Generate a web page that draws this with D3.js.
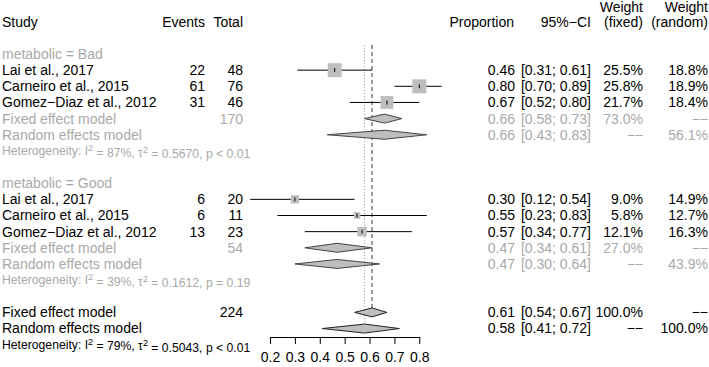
<!DOCTYPE html>
<html>
<head>
<meta charset="utf-8">
<script src="https://cdn.jsdelivr.net/npm/d3@7"></script>
<style>
  body { margin: 0; background: #fff; }
  svg { font-family: "Liberation Sans", Arial, sans-serif; }
</style>
</head>
<body>
<div id="chart"></div>
<script>
// study data, same three studies in each subgroup
const studies = ['Lai et al., 2017', 'Carneiro et al., 2015', 'Gomez\u2212Diaz et al., 2012']
const groups = ['Bad', 'Good']

const events = { Bad: [22, 61, 31], Good: [6, 6, 13] }
const totals = { Bad: [48, 76, 46], Good: [20, 11, 23] }
const props = { Bad: [0.46, 0.80, 0.67], Good: [0.30, 0.55, 0.57] }
const lower = { Bad: [0.31, 0.70, 0.52], Good: [0.12, 0.23, 0.34] }
const upper = { Bad: [0.61, 0.89, 0.80], Good: [0.54, 0.83, 0.77] }
const wFixed = { Bad: [25.5, 25.8, 21.7], Good: [9.0, 5.8, 12.1] }
const wRandom = { Bad: [18.8, 18.9, 18.4], Good: [14.9, 12.7, 16.3] }

// subgroup and overall summaries: [estimate, lower, upper]
const subFixed = { Bad: [0.66, 0.58, 0.73], Good: [0.47, 0.34, 0.61] }
const subRandom = { Bad: [0.66, 0.43, 0.83], Good: [0.47, 0.30, 0.64] }
const subTotal = { Bad: 170, Good: 54 }
const subWFixed = { Bad: '73.0%', Good: '27.0%' }
const subWRandom = { Bad: '56.1%', Good: '43.9%' }
const subHet = { Bad: ['87%', '0.5670', 'p < 0.01'], Good: ['39%', '0.1612', 'p = 0.19'] }

const allFixed = [0.61, 0.54, 0.67]
const allRandom = [0.58, 0.41, 0.72]
const allTotal = 224
const allHet = ['79%', '0.5043', 'p < 0.01']

const ticks = [0.2, 0.3, 0.4, 0.5, 0.6, 0.7, 0.8]

const width = 709
const height = 367
const grey = '#a9a9a9'
const fs = 14
const dash = '\u2212\u2212'

const x = d3.scaleLinear().domain([0.2, 0.8]).range([270, 419.3])
const rowY = (k) => 54 + 16.15 * k
const box = d3.scaleSqrt().domain([0, d3.max(groups.flatMap(g => wFixed[g]))]).range([0, 14])

const f2 = d3.format('.2f')
const ci = (lo, hi) => `[${f2(lo)}; ${f2(hi)}]`
const pct = (w) => w.toFixed(1) + '%'

// build the row list
const rows = []
let k = 0
groups.forEach(g => {
  rows.push({ k: k++, type: 'label', text: `metabolic = ${g}` })
  studies.forEach((s, i) => {
    rows.push({ k: k++, type: 'study', text: s, ev: events[g][i], n: totals[g][i],
      est: props[g][i], lo: lower[g][i], hi: upper[g][i], wf: pct(wFixed[g][i]), wr: pct(wRandom[g][i]), w: wFixed[g][i] })
  })
  rows.push({ k: k++, type: 'diamond', grey: true, text: 'Fixed effect model', n: subTotal[g],
    est: subFixed[g][0], lo: subFixed[g][1], hi: subFixed[g][2], wf: subWFixed[g], wr: dash })
  rows.push({ k: k++, type: 'diamond', grey: true, text: 'Random effects model',
    est: subRandom[g][0], lo: subRandom[g][1], hi: subRandom[g][2], wf: dash, wr: subWRandom[g] })
  rows.push({ k: k++, type: 'het', grey: true, het: subHet[g] })
  k++
})
rows.push({ k: k++, type: 'diamond', text: 'Fixed effect model', n: allTotal,
  est: allFixed[0], lo: allFixed[1], hi: allFixed[2], wf: '100.0%', wr: dash })
rows.push({ k: k++, type: 'diamond', text: 'Random effects model',
  est: allRandom[0], lo: allRandom[1], hi: allRandom[2], wf: dash, wr: '100.0%' })
rows.push({ k: k++, type: 'het', het: allHet })

const svg = d3.select('#chart').append('svg')
  .attr('width', width)
  .attr('height', height)
  .style('font-size', fs + 'px')

// header
const hdr = svg.append('g')
const header = (txt, xx, yy, anchor) => hdr.append('text')
  .attr('x', xx).attr('y', yy).attr('dy', '0.35em')
  .attr('text-anchor', anchor).text(txt)
header('Study', 2, rowY(-2), 'start')
header('Events', 205, rowY(-2), 'end')
header('Total', 243, rowY(-2), 'end')
header('Proportion', 514, rowY(-2), 'end')
header('95%\u2212CI', 591, rowY(-2), 'end')
header('Weight', 643, 7, 'end')
header('(fixed)', 643, rowY(-2), 'end')
header('Weight', 708, 7, 'end')
header('(random)', 708, rowY(-2), 'end')

// reference lines
const overall = rows.filter(r => r.type === 'diamond' && !r.grey)
svg.append('line')
  .attr('x1', x(allFixed[0])).attr('x2', x(allFixed[0]))
  .attr('y1', 45).attr('y2', rowY(overall[0].k) - 4.5)
  .attr('stroke', '#666').attr('stroke-width', 1.3).attr('stroke-dasharray', '4,3')
svg.append('line')
  .attr('x1', x(allRandom[0])).attr('x2', x(allRandom[0]))
  .attr('y1', 45).attr('y2', rowY(overall[1].k) - 4.5)
  .attr('stroke', '#999').attr('stroke-width', 1).attr('stroke-dasharray', '1,2')

const body = svg.append('g')
rows.forEach(r => {
  const y = rowY(r.k)
  const col = (r.grey || r.type === 'label') ? grey : '#000'
  const txt = (t, xx, anchor) => body.append('text')
    .attr('x', xx).attr('y', y).attr('dy', '0.35em')
    .attr('text-anchor', anchor).attr('fill', col).text(t)

  if (r.type === 'het') {
    const t = body.append('text').attr('x', 2).attr('y', y).attr('dy', '0.35em')
      .attr('fill', col).style('font-size', '12.2px')
    t.append('tspan').text('Heterogeneity: I')
    t.append('tspan').attr('dy', '-0.45em').style('font-size', '9px').text('2')
    t.append('tspan').attr('dy', '0.45em').text(` = ${r.het[0]}, \u03c4`)
    t.append('tspan').attr('dy', '-0.45em').style('font-size', '9px').text('2')
    t.append('tspan').attr('dy', '0.45em').text(` = ${r.het[1]}, ${r.het[2]}`)
    return
  }
  txt(r.text, 2, 'start')
  if (r.type === 'label') return
  if (r.ev != null) txt(r.ev, 205, 'end')
  if (r.n != null) txt(r.n, 243, 'end')
  txt(f2(r.est), 515, 'end')
  txt(ci(r.lo, r.hi), 591, 'end')
  txt(r.wf, 643, 'end')
  txt(r.wr, 708, 'end')

  if (r.type === 'study') {
    body.append('line')
      .attr('x1', x(r.lo)).attr('x2', x(r.hi)).attr('y1', y).attr('y2', y)
      .attr('stroke', '#000').attr('stroke-width', 1)
    const s = box(r.w)
    body.append('rect')
      .attr('x', x(r.est) - s / 2).attr('y', y - s / 2)
      .attr('width', s).attr('height', s)
      .attr('fill', '#bebebe')
    body.append('line')
      .attr('x1', x(r.est)).attr('x2', x(r.est)).attr('y1', y - 2).attr('y2', y + 2)
      .attr('stroke', '#000').attr('stroke-width', 1)
  } else {
    const h = 4.5
    const pts = [[x(r.lo), y], [x(r.est), y - h], [x(r.hi), y], [x(r.est), y + h]]
    body.append('path')
      .attr('d', d3.line()(pts) + 'Z')
      .attr('fill', '#bebebe')
      .attr('stroke', r.grey ? '#444' : '#222')
      .attr('stroke-width', 1)
  }
})

// x axis
const ax = svg.append('g').attr('transform', 'translate(0,337)')
  .call(d3.axisBottom(x).tickValues(ticks).tickFormat(d3.format('.1f')).tickSize(7).tickSizeOuter(0))
ax.select('.domain').attr('stroke', '#000')
ax.selectAll('.tick line').attr('stroke', '#000')
ax.selectAll('.tick text')
  .attr('y', 20.5).attr('dy', '0.35em')
  .style('font-size', fs + 'px')
  .style('font-family', '"Liberation Sans", Arial, sans-serif')
  .attr('fill', '#000')
</script>
</body>
</html>
